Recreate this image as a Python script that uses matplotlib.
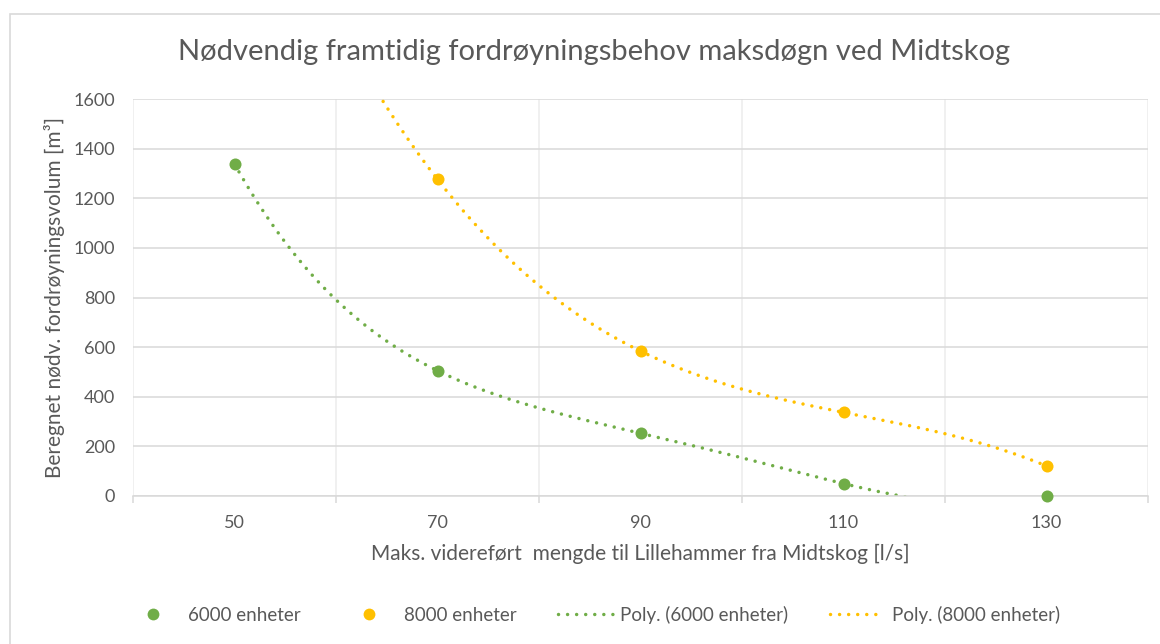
import numpy as np
import matplotlib
matplotlib.use("Agg")
import matplotlib.pyplot as plt
from matplotlib.lines import Line2D
from matplotlib.patches import Rectangle

# ---- data ----
flow = [50, 70, 90, 110, 130]
vol_6000 = [1338, 505, 253, 50, 0]
flow_8000 = [70, 90, 110, 130]
vol_8000 = [1276, 584, 337, 121]

title = "Nødvendig framtidig fordrøyningsbehov maksdøgn ved Midtskog"
xlabel = "Maks. videreført  mengde til Lillehammer fra Midtskog [l/s]"
ylabel = "Beregnet nødv. fordrøyningsvolum [m³]"
labels = ["6000 enheter", "8000 enheter", "Poly. (6000 enheter)", "Poly. (8000 enheter)"]

GREEN = "#70AD47"
YELLOW = "#FFC000"
TXT = "#595959"
FONT = "Lato"

plt.rcParams["font.family"] = [FONT, "DejaVu Sans"]

fig = plt.figure(figsize=(11.6, 6.44), dpi=100)
W, H = 1160, 644

# chart border
fig.patches.append(Rectangle((10 / W, -0.1), 1.2, 1 - 14 / H + 0.1, transform=fig.transFigure,
                             fill=False, edgecolor="#d9d9d9", linewidth=1.2))

ax = fig.add_axes([133 / W, 1 - 496 / H, (1148 - 133) / W, (496 - 99) / H])

# trendlines (polynomial fits, as Excel's Poly. trendline)
p6 = np.polyfit(flow, vol_6000, 4)
p8 = np.polyfit(flow_8000, vol_8000, 3)
xs = np.linspace(flow[0], flow[-1], 400)
dot = dict(linestyle=(0, (0.01, 2.6)), dash_capstyle="round", linewidth=2.5, zorder=2)
ax.plot(xs, np.polyval(p6, xs), color=GREEN, **dot)
ax.plot(xs, np.polyval(p8, xs), color=YELLOW, **dot)

ax.scatter(flow, vol_6000, s=75, color=GREEN, zorder=3, clip_on=False, linewidths=0)
ax.scatter(flow_8000, vol_8000, s=75, color=YELLOW, zorder=3, clip_on=False, linewidths=0)

ax.set_xlim(40, 140)
ax.set_ylim(0, 1600)

# grid & axes
ax.set_yticks(np.arange(0, 1601, 200))
ax.set_xticks(np.arange(40, 141, 20))
ax.set_xticks(flow, minor=True)
ax.set_xticklabels([])
ax.set_xticklabels([str(v) for v in flow], minor=True)
ax.grid(axis="y", color="#d9d9d9", linewidth=1.1, zorder=0)
ax.grid(axis="x", which="major", color="#ececec", linewidth=1.1, zorder=0)
ax.set_axisbelow(True)
for s in ["top", "right", "left"]:
    ax.spines[s].set_visible(False)
ax.spines["bottom"].set_color("#d9d9d9")
ax.spines["bottom"].set_linewidth(1.1)
ax.tick_params(axis="x", which="major", length=5, width=1.1, color="#d9d9d9", direction="out")
ax.tick_params(axis="x", which="minor", length=0, pad=14, labelsize=13, labelcolor=TXT)
ax.tick_params(axis="y", length=0, pad=13, labelsize=13, labelcolor=TXT)

ax.set_xlabel(xlabel, fontsize=15, color=TXT, labelpad=9)
ax.set_ylabel(ylabel, fontsize=15, color=TXT, labelpad=6)

fig.text(594 / W, 1 - 52 / H, title, ha="center", va="center", fontsize=21, color=TXT)

handles = [
    Line2D([], [], linestyle="none", marker="o", markersize=8.5, color=GREEN, markeredgewidth=0),
    Line2D([], [], linestyle="none", marker="o", markersize=8.5, color=YELLOW, markeredgewidth=0),
    Line2D([], [], color=GREEN, linestyle=(0, (0.01, 2.6)), dash_capstyle="round", linewidth=2.5),
    Line2D([], [], color=YELLOW, linestyle=(0, (0.01, 2.6)), dash_capstyle="round", linewidth=2.5),
]
leg = fig.legend(handles, labels, loc="center", bbox_to_anchor=(593 / W, 1 - 615 / H), ncol=4,
                 frameon=False, fontsize=13.5, handlelength=2.9, handletextpad=0.42,
                 columnspacing=2.2, labelcolor=TXT)

fig.savefig("out.png", dpi=100)
